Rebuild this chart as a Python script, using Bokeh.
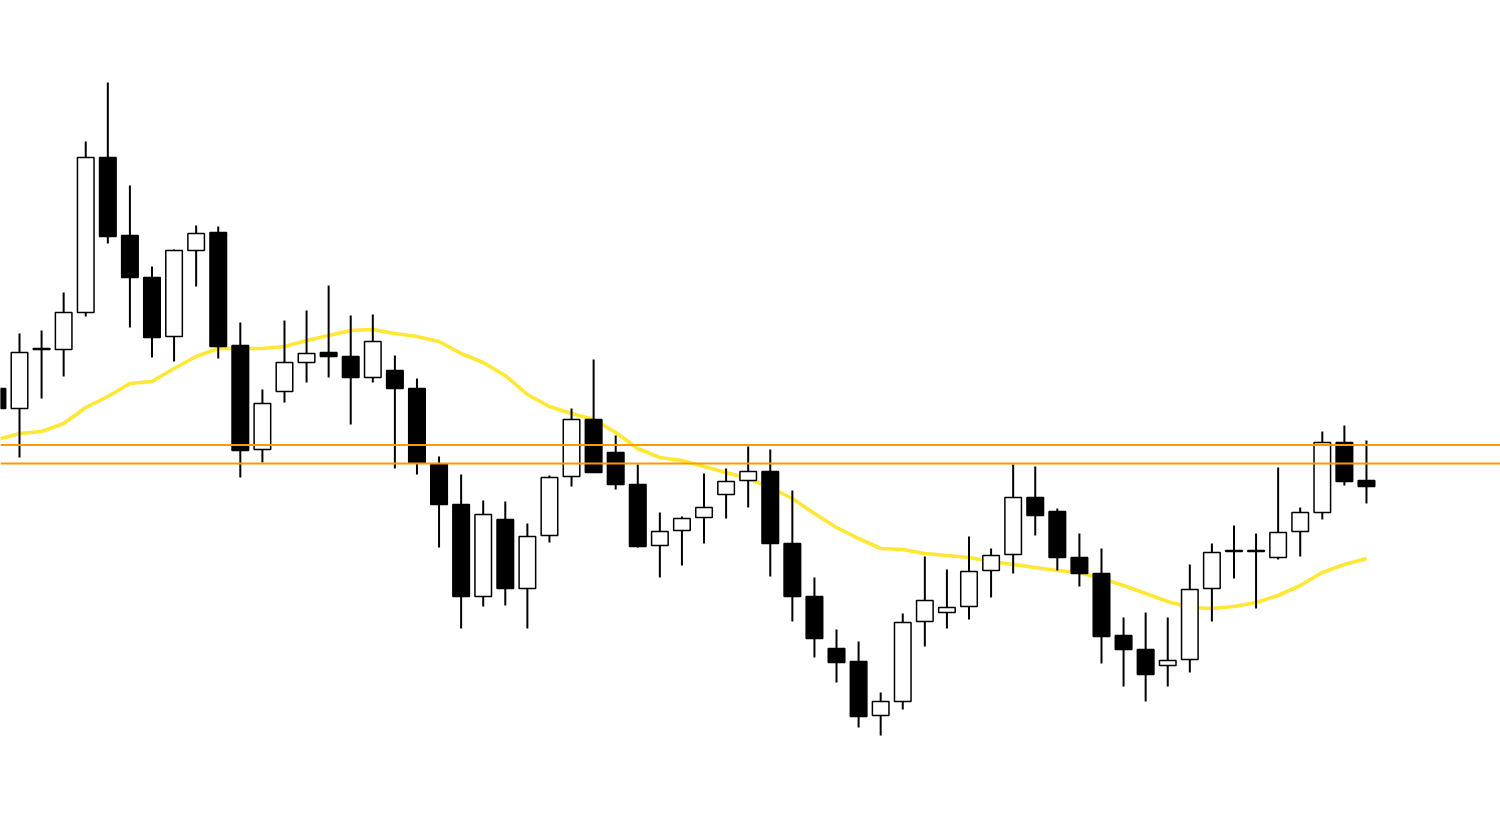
from bokeh.plotting import figure
from bokeh.models import ColumnDataSource, Range1d, Span
from bokeh.embed import file_html
from bokeh.resources import INLINE

# Candle data (index, open, high, low, close)
opens = [161.2, 159.2, 165.1, 165.1, 168.8, 184.3, 176.5, 172.3, 166.4, 175.0,
         176.8, 165.5, 155.1, 160.9, 163.8, 164.8, 164.4, 162.3, 163.0, 161.2,
         153.6, 149.6, 140.4, 148.1, 141.2, 146.5, 152.4, 158.1, 154.8, 151.6,
         145.5, 147.0, 148.3, 150.6, 152.0, 152.9, 145.7, 140.4, 135.2, 133.9,
         128.5, 129.9, 137.9, 138.8, 139.4, 143.0, 144.6, 150.3, 148.9, 144.3,
         142.7, 136.5, 135.1, 133.5, 134.1, 141.2, 144.9, 144.9, 144.3, 146.9,
         148.8, 155.8, 152.0]
highs = [161.5, 166.7, 167.0, 170.8, 185.9, 191.8, 181.5, 173.4, 175.1, 177.5,
         177.4, 167.8, 161.1, 168.0, 169.0, 171.5, 168.5, 168.6, 164.5, 162.2,
         154.4, 152.6, 150.0, 149.9, 147.7, 152.5, 159.2, 164.1, 156.5, 153.6,
         148.8, 148.4, 152.7, 153.2, 155.4, 155.1, 151.0, 142.3, 137.1, 135.9,
         130.8, 138.7, 144.4, 143.1, 146.4, 145.2, 153.6, 153.4, 149.2, 146.7,
         145.2, 138.3, 138.8, 138.3, 143.6, 145.7, 147.5, 146.7, 153.3, 149.3,
         156.9, 157.5, 156.0]
lows = [159.0, 154.3, 160.2, 162.4, 168.4, 175.7, 167.3, 164.3, 163.9, 171.4,
        164.2, 152.3, 153.8, 159.8, 161.8, 162.3, 157.6, 161.8, 153.2, 152.6,
        145.3, 137.2, 139.4, 139.5, 137.2, 145.8, 151.4, 152.8, 151.1, 145.3,
        142.3, 143.5, 145.7, 148.2, 149.3, 142.4, 137.9, 134.3, 131.8, 127.3,
        126.5, 129.1, 135.4, 137.2, 138.1, 140.3, 142.7, 146.5, 143.0, 141.4,
        133.7, 131.4, 129.9, 131.4, 132.8, 137.9, 142.2, 139.2, 144.1, 144.4,
        148.1, 151.5, 149.7]
closes = [159.2, 164.8, 165.2, 168.8, 184.3, 176.4, 172.3, 166.3, 175.0, 176.7,
          165.4, 155.0, 159.7, 163.8, 164.7, 164.4, 162.3, 165.9, 161.2, 153.8,
          149.6, 140.4, 148.6, 141.2, 146.4, 152.3, 158.1, 152.8, 151.6, 145.4,
          146.9, 148.2, 149.3, 151.9, 152.9, 145.7, 140.4, 136.2, 133.8, 128.4,
          129.9, 137.8, 140.0, 139.3, 142.9, 144.5, 150.3, 148.5, 144.3, 142.7,
          136.4, 135.1, 132.6, 134.0, 141.1, 144.8, 145.0, 145.0, 146.8, 148.8,
          155.8, 151.9, 151.4]
ma = [156.1, 156.7, 156.9, 157.7, 159.3, 160.4, 161.7, 161.9, 163.2, 164.4,
      165.2, 165.2, 165.2, 165.4, 166.0, 166.5, 167.0, 167.1, 166.7, 166.4,
      165.9, 164.7, 163.8, 162.5, 160.6, 159.4, 158.7, 158.1, 156.8, 155.2,
      154.3, 154.0, 153.4, 152.8, 152.2, 151.3, 150.2, 148.7, 147.3, 146.2,
      145.2, 145.1, 144.7, 144.5, 144.3, 143.9, 143.6, 143.3, 143.0, 142.8,
      142.2, 141.5, 140.7, 139.9, 139.3, 139.2, 139.4, 139.8, 140.5, 141.5,
      142.8, 143.6, 144.2]
levels = [155.55, 153.7]

idx = list(range(len(opens)))
tops = [max(o, c) for o, c in zip(opens, closes)]
bots = [min(o, c) for o, c in zip(opens, closes)]
fills = ["white" if c >= o else "black" for o, c in zip(opens, closes)]

src = ColumnDataSource(dict(x=idx, o=opens, h=highs, l=lows, c=closes,
                            top=tops, bot=bots, fill=fills))

p = figure(width=1500, height=821, output_backend="svg", toolbar_location=None,
           x_range=Range1d(0.1395, 68.07), y_range=Range1d(117.9, 200.0),
           min_border=0, background_fill_color="white", border_fill_color="white")
p.axis.visible = False
p.grid.visible = False
p.outline_line_color = None

p.line(idx, ma, line_color="#FFE733", line_width=3.6)
p.segment(x0="x", y0="l", x1="x", y1="h", source=src, line_color="black", line_width=2)
p.vbar(x="x", width=0.75, top="top", bottom="bot", source=src,
       fill_color="fill", line_color="black", line_width=1.5)

p.add_layout(Span(location=levels[0], dimension="width", line_color="#FF9900", line_width=2.2))
p.add_layout(Span(location=levels[1], dimension="width", line_color="#FF9900", line_width=1.8))

open("out.html", "w").write(file_html(p, INLINE))
